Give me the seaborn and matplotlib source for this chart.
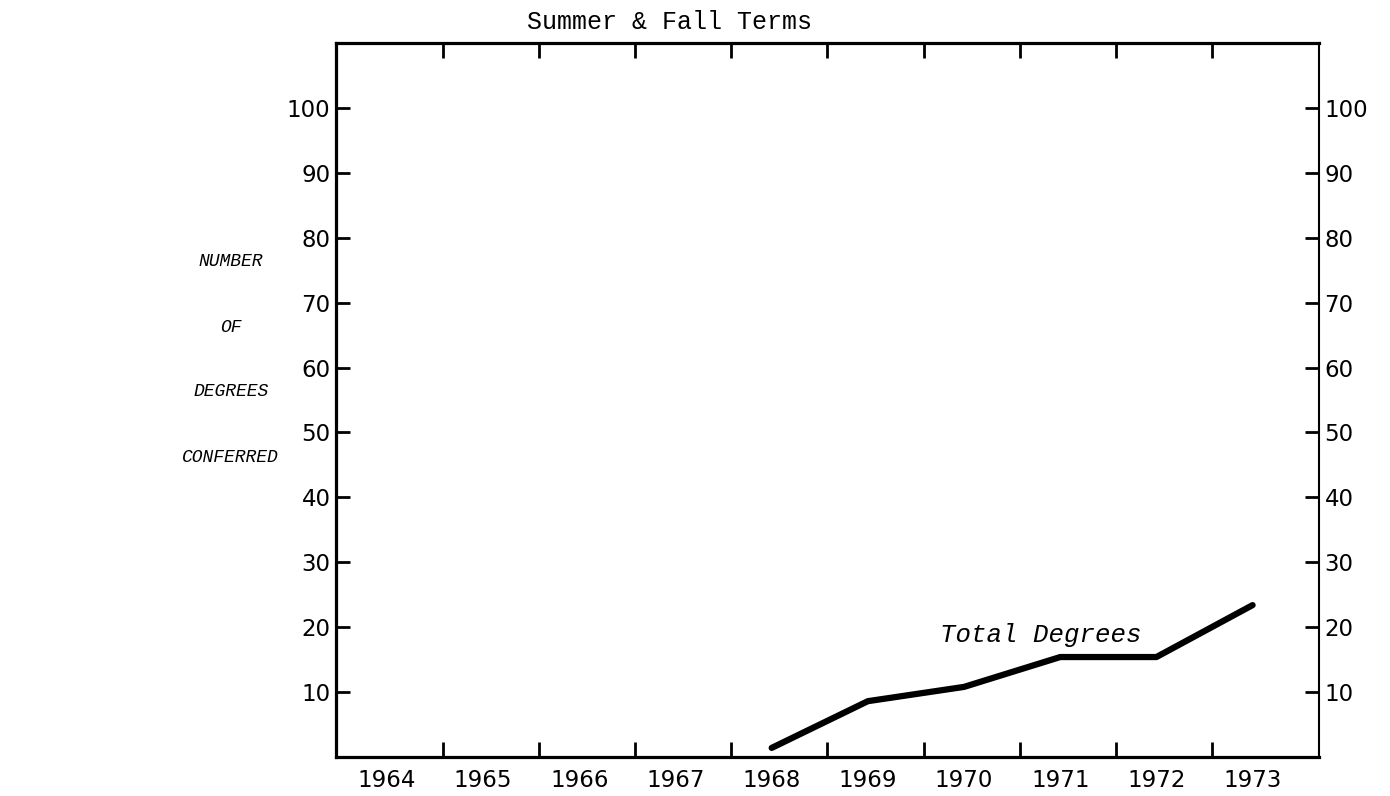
import pandas as pd
import matplotlib
matplotlib.use("Agg")
import matplotlib.pyplot as plt
import seaborn as sns

# Data
year_labels = [1964, 1965, 1966, 1967, 1968, 1969, 1970, 1971, 1972, 1973]
years = [1968, 1969, 1970, 1971, 1972, 1973]
degrees = [1.4, 8.6, 10.8, 15.4, 15.4, 23.4]
y_ticks = [10, 20, 30, 40, 50, 60, 70, 80, 90, 100]
ylabel_lines = ["NUMBER", "OF", "DEGREES", "CONFERRED"]

df = pd.DataFrame({"Year": years, "Degrees": degrees})

sns.set_style("white")
plt.rcParams["font.family"] = ["DejaVu Sans"]
plt.rcParams["text.color"] = "black"
plt.rcParams["xtick.color"] = "black"
plt.rcParams["ytick.color"] = "black"
plt.rcParams["xtick.labelcolor"] = "black"
plt.rcParams["ytick.labelcolor"] = "black"

fig = plt.figure(figsize=(13.9, 7.96), dpi=100)
ax = fig.add_axes([0.2417, 0.049, 0.7072, 0.897])

sns.lineplot(data=df, x="Year", y="Degrees", color="black", linewidth=4.5,
             solid_capstyle="round", ax=ax)

ax.set_xlim(1963.47, 1973.69)
ax.set_ylim(0, 110)

# year labels sit in the cells, tick marks sit between them
ax.set_xticks(year_labels)
ax.set_xticklabels([str(y) for y in year_labels], fontsize=16.5)
ax.set_xticks([y + 0.58 for y in year_labels[:-1]], minor=True)
ax.tick_params(axis="x", which="major", length=0, pad=9)
ax.tick_params(axis="x", which="minor", direction="in", length=11, width=2,
               top=True, bottom=True)

ax.set_yticks(y_ticks)
ax.set_yticklabels([str(v) for v in y_ticks], fontsize=16.5)
ax.tick_params(axis="y", which="major", direction="in", length=10, width=2,
               left=True, right=True, labelleft=True, labelright=True, pad=4)

for side in ["left", "top", "bottom"]:
    ax.spines[side].set_linewidth(2.3)
    ax.spines[side].set_color("black")
ax.spines["right"].set_linewidth(1.5)
ax.spines["right"].set_color("black")

ax.set_xlabel("")
ax.set_ylabel("")

# Title and labels in typewriter style
fig.text(0.482, 0.972, "Summer & Fall Terms", family="Liberation Mono",
         fontsize=18, ha="center", va="center")

ax.text(1970.8, 18.8, "Total Degrees", family="Liberation Mono",
        style="italic", fontsize=18.5, ha="center", va="center")

for i, line in enumerate(ylabel_lines):
    fig.text(0.166, 1 - (262 + 65 * i) / 796, line, family="Liberation Mono",
             style="italic", fontsize=13, ha="center", va="center")

plt.savefig("out.png", dpi=100, facecolor="white")
